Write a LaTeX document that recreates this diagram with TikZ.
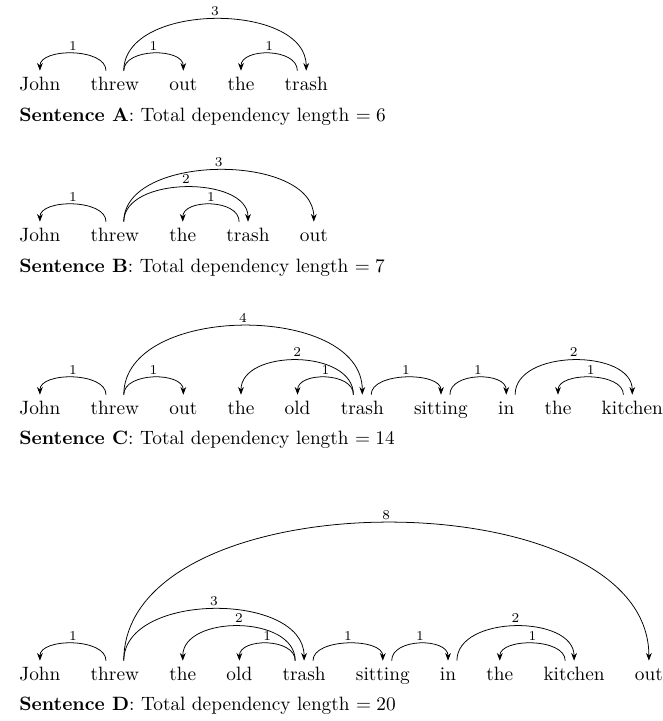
\documentclass[tikz,border=0pt]{standalone}
\usepackage{tikz}
\usetikzlibrary{positioning,arrows.meta}

\begin{document}
\begin{tikzpicture}[
  x=0.518pt, y=-0.518pt,
  word/.style={inner sep=0pt, text height=9.8pt, text depth=2pt},
  caption/.style={anchor=base west, inner sep=0pt},
  dep/.style={-{Stealth[length=4pt, width=3pt]}},
  lbl/.style={font=\scriptsize, inner sep=1.5pt, above},
  node distance=15.3pt
]
  \useasboundingbox (0,0) rectangle (663,721);

  % Sentence A
  \node[word, anchor=base west] (a_john) at (19,90) {John};
  \node[word, right=of a_john] (a_threw) {threw};
  \node[word, right=of a_threw] (a_out) {out};
  \node[word, right=of a_out] (a_the) {the};
  \node[word, right=of a_the] (a_trash) {trash};
  \node[caption] (a_cap) at (19,121)
    {\textbf{Sentence A}: Total dependency length $= 6$};

  \draw[dep] ([xshift=-4.6pt]a_threw.north) .. controls +(0,-23) and +(0,-23) .. (a_john.north) node[lbl, midway] {1};
  \draw[dep] ([xshift=4.6pt]a_threw.north) .. controls +(0,-23) and +(0,-23) .. (a_out.north) node[lbl, midway] {1};
  \draw[dep] ([xshift=4.6pt]a_threw.north) .. controls +(0,-69) and +(0,-69) .. (a_trash.north) node[lbl, midway] {3};
  \draw[dep] ([xshift=-4.6pt]a_trash.north) .. controls +(0,-23) and +(0,-23) .. (a_the.north) node[lbl, midway] {1};

  % Sentence B
  \node[word, anchor=base west] (b_john) at (19,241) {John};
  \node[word, right=of b_john] (b_threw) {threw};
  \node[word, right=of b_threw] (b_the) {the};
  \node[word, right=of b_the] (b_trash) {trash};
  \node[word, right=of b_trash] (b_out) {out};
  \node[caption] (b_cap) at (19,272)
    {\textbf{Sentence B}: Total dependency length $= 7$};

  \draw[dep] ([xshift=-4.6pt]b_threw.north) .. controls +(0,-23) and +(0,-23) .. (b_john.north) node[lbl, midway] {1};
  \draw[dep] ([xshift=4.6pt]b_threw.north) .. controls +(0,-46) and +(0,-46) .. (b_trash.north) node[lbl, midway] {2};
  \draw[dep] ([xshift=4.6pt]b_threw.north) .. controls +(0,-69) and +(0,-69) .. (b_out.north) node[lbl, midway] {3};
  \draw[dep] ([xshift=-4.6pt]b_trash.north) .. controls +(0,-23) and +(0,-23) .. (b_the.north) node[lbl, midway] {1};

  % Sentence C
  \node[word, anchor=base west] (c_john) at (19,414) {John};
  \node[word, right=of c_john] (c_threw) {threw};
  \node[word, right=of c_threw] (c_out) {out};
  \node[word, right=of c_out] (c_the) {the};
  \node[word, right=of c_the] (c_old) {old};
  \node[word, right=of c_old] (c_trash) {trash};
  \node[word, right=of c_trash] (c_sitting) {sitting};
  \node[word, right=of c_sitting] (c_in) {in};
  \node[word, right=of c_in] (c_the2) {the};
  \node[word, right=of c_the2] (c_kitchen) {kitchen};
  \node[caption] (c_cap) at (19,444)
    {\textbf{Sentence C}: Total dependency length $= 14$};

  \draw[dep] ([xshift=-4.6pt]c_threw.north) .. controls +(0,-23) and +(0,-23) .. (c_john.north) node[lbl, midway] {1};
  \draw[dep] ([xshift=4.6pt]c_threw.north) .. controls +(0,-23) and +(0,-23) .. (c_out.north) node[lbl, midway] {1};
  \draw[dep] ([xshift=4.6pt]c_threw.north) .. controls +(0,-92) and +(0,-92) .. (c_trash.north) node[lbl, midway] {4};
  \draw[dep] ([xshift=-4.6pt]c_trash.north) .. controls +(0,-46) and +(0,-46) .. (c_the.north) node[lbl, midway] {2};
  \draw[dep] ([xshift=-4.6pt]c_trash.north) .. controls +(0,-23) and +(0,-23) .. (c_old.north) node[lbl, midway] {1};
  \draw[dep] ([xshift=4.6pt]c_trash.north) .. controls +(0,-23) and +(0,-23) .. (c_sitting.north) node[lbl, midway] {1};
  \draw[dep] ([xshift=4.6pt]c_sitting.north) .. controls +(0,-23) and +(0,-23) .. (c_in.north) node[lbl, midway] {1};
  \draw[dep] ([xshift=4.6pt]c_in.north) .. controls +(0,-46) and +(0,-46) .. (c_kitchen.north) node[lbl, midway] {2};
  \draw[dep] ([xshift=-4.6pt]c_kitchen.north) .. controls +(0,-23) and +(0,-23) .. (c_the2.north) node[lbl, midway] {1};

  % Sentence D
  \node[word, anchor=base west] (d_john) at (19,680) {John};
  \node[word, right=of d_john] (d_threw) {threw};
  \node[word, right=of d_threw] (d_the) {the};
  \node[word, right=of d_the] (d_old) {old};
  \node[word, right=of d_old] (d_trash) {trash};
  \node[word, right=of d_trash] (d_sitting) {sitting};
  \node[word, right=of d_sitting] (d_in) {in};
  \node[word, right=of d_in] (d_the2) {the};
  \node[word, right=of d_the2] (d_kitchen) {kitchen};
  \node[word, right=of d_kitchen] (d_out) {out};
  \node[caption] (d_cap) at (19,710)
    {\textbf{Sentence D}: Total dependency length $= 20$};

  \draw[dep] ([xshift=-4.6pt]d_threw.north) .. controls +(0,-23) and +(0,-23) .. (d_john.north) node[lbl, midway] {1};
  \draw[dep] ([xshift=4.6pt]d_threw.north) .. controls +(0,-69) and +(0,-69) .. (d_trash.north) node[lbl, midway] {3};
  \draw[dep] ([xshift=4.6pt]d_threw.north) .. controls +(0,-184) and +(0,-184) .. (d_out.north) node[lbl, midway] {8};
  \draw[dep] ([xshift=-4.6pt]d_trash.north) .. controls +(0,-46) and +(0,-46) .. (d_the.north) node[lbl, midway] {2};
  \draw[dep] ([xshift=-4.6pt]d_trash.north) .. controls +(0,-23) and +(0,-23) .. (d_old.north) node[lbl, midway] {1};
  \draw[dep] ([xshift=4.6pt]d_trash.north) .. controls +(0,-23) and +(0,-23) .. (d_sitting.north) node[lbl, midway] {1};
  \draw[dep] ([xshift=4.6pt]d_sitting.north) .. controls +(0,-23) and +(0,-23) .. (d_in.north) node[lbl, midway] {1};
  \draw[dep] ([xshift=4.6pt]d_in.north) .. controls +(0,-46) and +(0,-46) .. (d_kitchen.north) node[lbl, midway] {2};
  \draw[dep] ([xshift=-4.6pt]d_kitchen.north) .. controls +(0,-23) and +(0,-23) .. (d_the2.north) node[lbl, midway] {1};
\end{tikzpicture}
\end{document}
